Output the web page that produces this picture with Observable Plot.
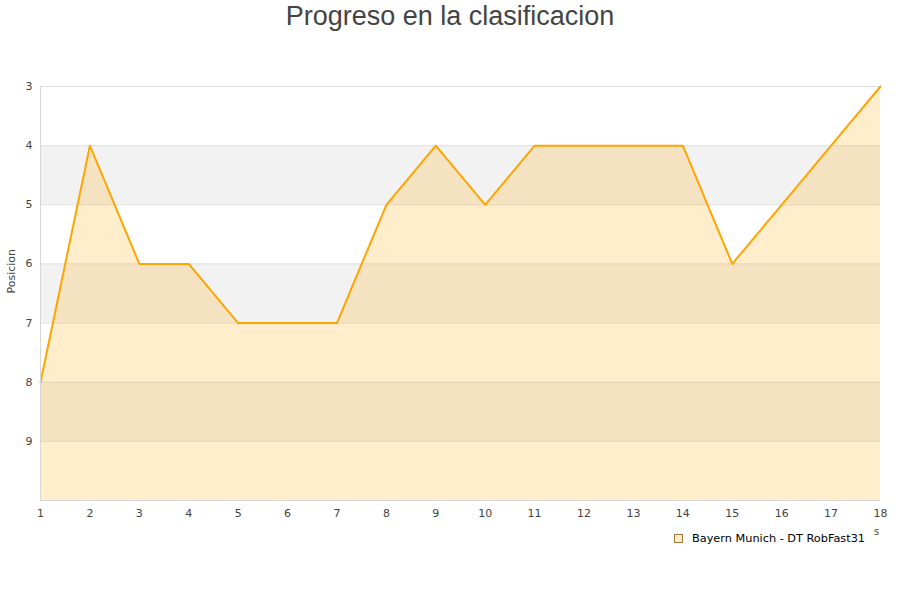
<!DOCTYPE html>
<html>
<head>
<meta charset="utf-8">
<script src="https://cdn.jsdelivr.net/npm/d3@7"></script>
<script src="https://cdn.jsdelivr.net/npm/@observablehq/plot@0.6"></script>
<style>
  html, body { margin: 0; padding: 0; background: #fff; }
  #wrap { position: relative; width: 900px; height: 600px; overflow: hidden; }
  #title { position: absolute; left: 0; top: 0; width: 900px; text-align: center;
    font-family: "Liberation Sans", Arial, sans-serif; font-size: 27px; color: #444; line-height: 32px; }
  #legend { position: absolute; left: 674px; top: 532px; font-family: "DejaVu Sans", sans-serif;
    font-size: 11.3px; color: #000; display: flex; align-items: center; }
  #legend .sw { width: 7px; height: 7px; border: 1px solid #a07a3a; background: #ffedcc; margin-right: 9px; }
  #chart { position: absolute; left: 0; top: 0; }
</style>
</head>
<body>
<div id="wrap">
  <div id="chart"></div>
  <div id="title">Progreso en la clasificacion</div>
  <div id="legend"><div class="sw"></div><span>Bayern Munich - DT RobFast31</span></div>
</div>
<script>
const jornadas = [1,2,3,4,5,6,7,8,9,10,11,12,13,14,15,16,17,18];
const posiciones = [8,4,6,6,7,7,7,5,4,5,4,4,4,4,6,5,4,3];
const yTicks = [3,4,5,6,7,8,9];
const bandas = [[4,5],[6,7],[8,9]];
const serie = "Bayern Munich - DT RobFast31";

const data = jornadas.map((j, i) => ({j, p: posiciones[i]}));
const bands = bandas.map(([a, b]) => ({a, b}));

const chart = Plot.plot({
  width: 900,
  height: 600,
  marginTop: 86,
  marginBottom: 100,
  marginLeft: 40,
  marginRight: 20,
  style: {fontFamily: "DejaVu Sans, sans-serif", fontSize: "11px", color: "#444", background: "transparent"},
  x: {domain: [1, 18], ticks: jornadas, tickSize: 0, tickPadding: 9, label: null},
  y: {domain: [3, 10], reverse: true, ticks: yTicks, tickFormat: "d", tickSize: 0, tickPadding: 8, label: null},
  marks: [
    Plot.rectY(bands, {x1: 1, x2: 18, y1: "a", y2: "b", fill: "#f2f2f2"}),
    Plot.ruleY([3,4,5,6,7,8,9], {stroke: "#e0e0e0", strokeWidth: 1}),
    Plot.areaY(data, {x: "j", y1: 10, y2: "p", fill: "orange", fillOpacity: 0.2}),
    Plot.line(data, {x: "j", y: "p", stroke: "orange", strokeWidth: 2}),
    Plot.ruleX([1], {stroke: "#d6d6d6", strokeWidth: 1}),
    Plot.ruleY([10], {stroke: "#d6d6d6", strokeWidth: 1}),
    Plot.axisY({ticks: yTicks, tickFormat: "d", tickSize: 0, tickPadding: 8, fill: "#444"}),
    Plot.axisX({ticks: jornadas, tickSize: 0, tickPadding: 9, fill: "#444"}),
    Plot.text(["Posicion"], {frameAnchor: "left", dx: -29, rotate: -90, fill: "#444", fontSize: 11}),
    Plot.text(["s"], {x: 18, y: 10, dx: -4, dy: 31, fill: "#444", fontSize: 10})
  ]
});
document.getElementById("chart").appendChild(chart);
</script>
</body>
</html>
